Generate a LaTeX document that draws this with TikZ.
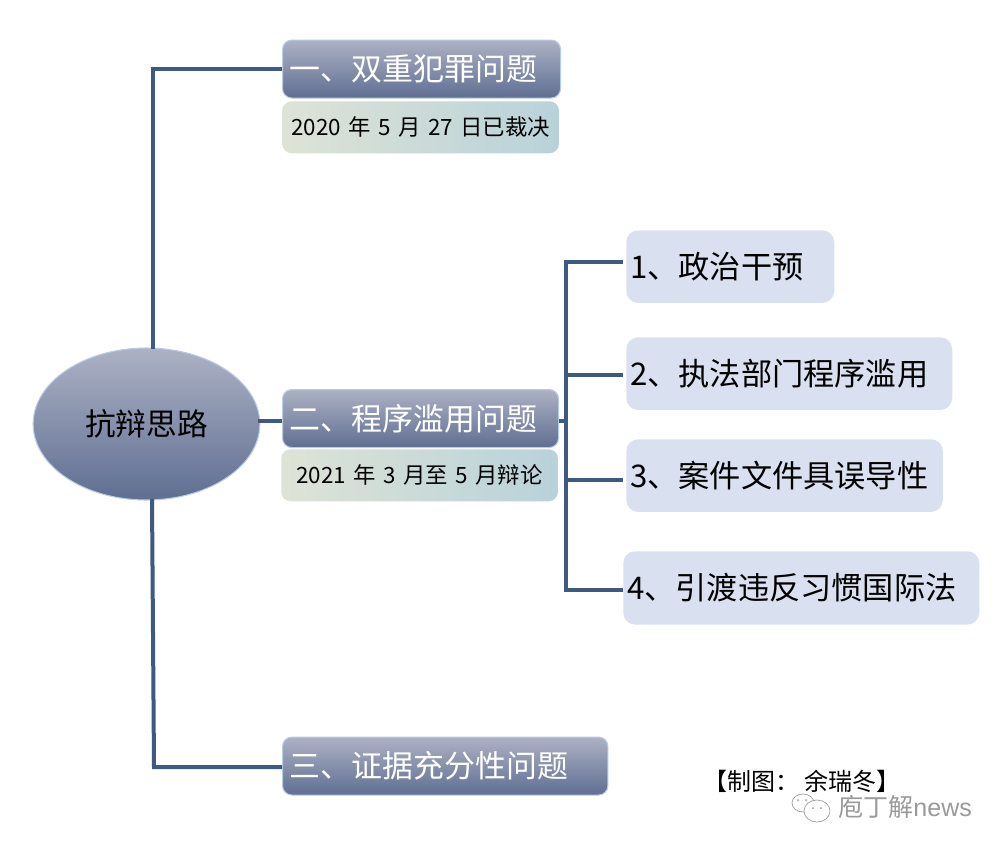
\documentclass[tikz,border=0pt]{standalone}
\usepackage{fontspec}
\usetikzlibrary{shapes.geometric}
\setmainfont{Noto Sans CJK SC}
\newfontfamily\latinfont{Liberation Sans}
\newcommand{\fs}[1]{\fontsize{#1}{#1}\selectfont}
\newcommand{\lowerby}[2]{\raisebox{-#1}{#2}}
\definecolor{lineblue}{HTML}{3F5A82}
\definecolor{edgeblue}{HTML}{B8CCE4}
\definecolor{titletop}{HTML}{ADB2C4}
\definecolor{titlebot}{HTML}{5F6E92}
\definecolor{subleft}{HTML}{DEE3D6}
\definecolor{subright}{HTML}{B8D2DA}
\definecolor{itemfill}{HTML}{D9E1F0}
\definecolor{wmgray}{HTML}{9A9A9A}
\tikzset{
  x=0.75pt,y=-0.75pt,
  conn/.style={draw=lineblue,line width=3pt,line join=miter},
  baseb/.style={anchor=north west,rounded corners=7pt,inner xsep=5.25pt,inner ysep=0pt,align=left},
  titlebox/.style={baseb,top color=titletop,bottom color=titlebot,draw=edgeblue,line width=0.8pt,text=white,font=\fs{23.2pt}},
  subbox/.style={baseb,left color=subleft,right color=subright,draw=none,text=black,align=center,font=\fs{16.8pt}},
  itembox/.style={baseb,rounded corners=9pt,fill=itemfill,draw=none,text=black,inner xsep=3pt,font=\fs{23.4pt}},
  wm/.style={draw=wmgray,line width=0.5pt,fill=white},
}
\begin{document}
\begin{tikzpicture}
\useasboundingbox (0,0) rectangle (1006,851);
\fill[white] (0,0) rectangle (1006,851);
% junctions
\coordinate (ja) at (153,349);
\coordinate (jb) at (152,499);
\coordinate (jbe) at (154,767);
\coordinate (jc) at (258,421);
\coordinate (tr) at (566,421);
\coordinate (tt) at (566,262);
\coordinate (t2) at (566,375);
\coordinate (t3) at (566,480);
\coordinate (tb) at (566,590);
\coordinate (e1) at (623,262);
\coordinate (e2) at (623,375);
\coordinate (e3) at (623,480);
\coordinate (e4) at (623,590);
% nodes
\node[titlebox,minimum width=208.5pt,minimum height=43.5pt,text width=197.5pt] (a1) at (282,39.5) {\lowerby{1.2pt}{一、双重犯罪问题}};
\node[subbox,minimum width=207.5pt,minimum height=39pt,text width=197pt] (s1) at (282,101) {\lowerby{3pt}{2020 年 5 月 27 日已裁决}};
\node[titlebox,minimum width=207pt,minimum height=43.5pt,text width=196pt] (a2) at (282,389) {\lowerby{0.8pt}{二、程序滥用问题}};
\node[subbox,minimum width=207.5pt,minimum height=39pt,text width=197pt] (s2) at (281,449) {\lowerby{3pt}{2021 年 3 月至 5 月辩论}};
\node[titlebox,minimum width=244pt,minimum height=43.5pt,text width=233pt] (a3) at (282,736.5) {\lowerby{0.8pt}{三、证据充分性问题}};
\node[itembox,minimum width=156pt,minimum height=54.5pt,text width=150pt] (b1) at (626,230) {1、政治干预};
\node[itembox,minimum width=244.5pt,minimum height=54.5pt,text width=238.5pt] (b2) at (626,337) {2、执法部门程序滥用};
\node[itembox,minimum width=237.5pt,minimum height=54.5pt,text width=231.5pt] (b3) at (626,439) {3、案件文件具误导性};
\node[itembox,minimum width=267pt,minimum height=55pt,text width=261pt] (b4) at (623,551) {4、引渡违反习惯国际法};
\node[ellipse,draw=edgeblue,line width=0.8pt,top color=titletop,bottom color=titlebot,minimum width=170pt,minimum height=114pt,inner sep=0pt,text=black,font=\fs{23pt}] (root) at (146.5,424) {抗辩思路};
% connectors
\draw[conn] (ja) |- (a1.west);
\draw[conn] (jb) -- (jbe) -- (jbe -| a3.west);
\draw[conn] (jc) -- (jc -| a2.west);
\draw[conn] (tr -| a2.east) -- (tr);
\draw[conn] (e1) -- (tt) -- (tb) -- (e4);
\draw[conn] (t2) -- (e2);
\draw[conn] (t3) -- (e3);
% credit
\node[anchor=west,inner sep=0pt,font=\fs{18pt}] (credit) at (703,781) {【制图：\hspace{4pt}余瑞冬】};
% watermark
\node[anchor=west,inner sep=0pt,text=wmgray,font=\fs{18.8pt}] (mark) at (838,807) {庖丁解{\latinfont news}};
\draw[wm] (803,803) ellipse (11 and 9);
\draw[wm] (817,811) ellipse (13 and 11);
\fill[wmgray] (798,800) circle (1) (806,800) circle (1) (813,808) circle (1) (821,808) circle (1);
\end{tikzpicture}
\end{document}
